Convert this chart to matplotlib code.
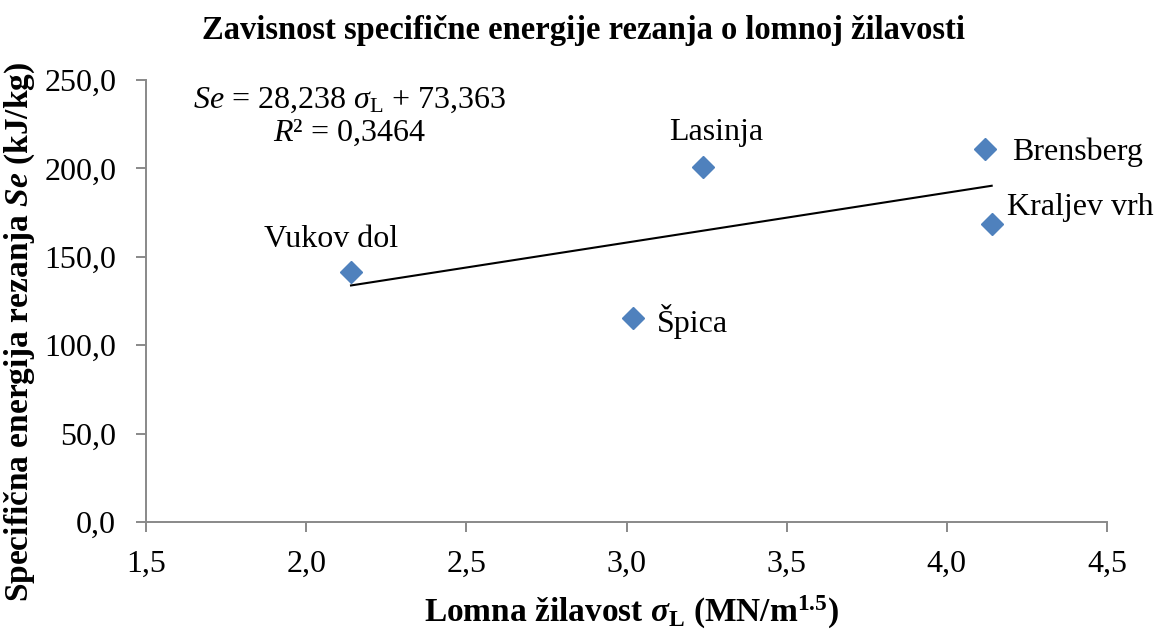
import numpy as np
import matplotlib
matplotlib.use("Agg")
import matplotlib.pyplot as plt

plt.rcParams['font.family'] = ['Liberation Serif', 'DejaVu Serif']
plt.rcParams['mathtext.fontset'] = 'custom'
plt.rcParams['mathtext.rm'] = 'Liberation Serif'
plt.rcParams['mathtext.it'] = 'Liberation Serif:italic'
plt.rcParams['mathtext.bf'] = 'Liberation Serif:bold'
try:
    plt.rcParams['mathtext.bfit'] = 'Liberation Serif:bold:italic'
except KeyError:
    pass

# data
names = ["Vukov dol", "Špica", "Lasinja", "Brensberg", "Kraljev vrh"]
toughness = [2.14, 3.02, 3.24, 4.12, 4.14]
energy = [141.6, 115.2, 201.0, 210.8, 168.4]
label_offsets = [(-14.4, 23), (17.3, -2), (9.4, 24.5), (19.4, -2), (10.8, 12.2)]
label_ha = ["center", "left", "center", "left", "left"]
x_ticks = [1.5, 2.0, 2.5, 3.0, 3.5, 4.0, 4.5]
y_ticks = [0, 50, 100, 150, 200, 250]

fig = plt.figure(figsize=(11.56, 6.30), dpi=100)
ax = fig.add_axes([146/1156, 1-522/630, (1107-146)/1156, (522-80)/630])

blue = "#4F81BD"
ax.plot(toughness, energy, linestyle="none", marker="D", markersize=11,
        color=blue, zorder=3)

slope, intercept = np.polyfit(toughness, energy, 1)
xs = np.array([min(toughness), max(toughness)])
ax.plot(xs, slope*xs + intercept, color="black", lw=1.5, zorder=2)

for n, x, y, off, ha in zip(names, toughness, energy, label_offsets, label_ha):
    ax.annotate(n, (x, y), xytext=off, textcoords="offset points",
                ha=ha, va="center", fontsize=23)

ax.text(0.212, 0.955, r"$\mathit{Se}$ = 28,238 $\mathit{\sigma}_{\mathrm{L}}$ + 73,363",
        transform=ax.transAxes, ha="center", va="center", fontsize=23)
ax.text(0.212, 0.880, r"$\mathit{R}$² = 0,3464",
        transform=ax.transAxes, ha="center", va="center", fontsize=23)

ax.set_xlim(1.5, 4.5)
ax.set_ylim(0, 250)
ax.set_xticks(x_ticks)
ax.set_xticklabels([f"{v:.1f}".replace(".", ",") for v in x_ticks])
ax.set_yticks(y_ticks)
ax.set_yticklabels([f"{v:.1f}".replace(".", ",") for v in y_ticks])

for s in ["top", "right"]:
    ax.spines[s].set_visible(False)
for s in ["left", "bottom"]:
    ax.spines[s].set_color("#898989")
    ax.spines[s].set_linewidth(1.4)
ax.tick_params(axis="both", which="major", direction="out", length=7,
               width=1.4, color="#898989", labelsize=23)
ax.tick_params(axis="x", pad=13)
ax.tick_params(axis="y", pad=14.5)

ax.set_xlabel(r"Lomna žilavost $\mathbfit{\sigma}_{\mathbf{L}}$ (MN/m$^{\mathbf{1.5}}$)",
              fontsize=24, fontweight="bold")
ax.xaxis.set_label_coords(0.505, -0.163)
ax.set_ylabel(r"Specifična energija rezanja $\mathbfit{Se}$ (kJ/kg)",
              fontsize=24, fontweight="bold")
ax.yaxis.set_label_coords(-0.113, 0.431)

fig.text(0.5048, 1-30/630, "Zavisnost specifične energije rezanja o lomnoj žilavosti",
         ha="center", va="center", fontsize=23.5, fontweight="bold")

fig.savefig("out.png", dpi=100)
